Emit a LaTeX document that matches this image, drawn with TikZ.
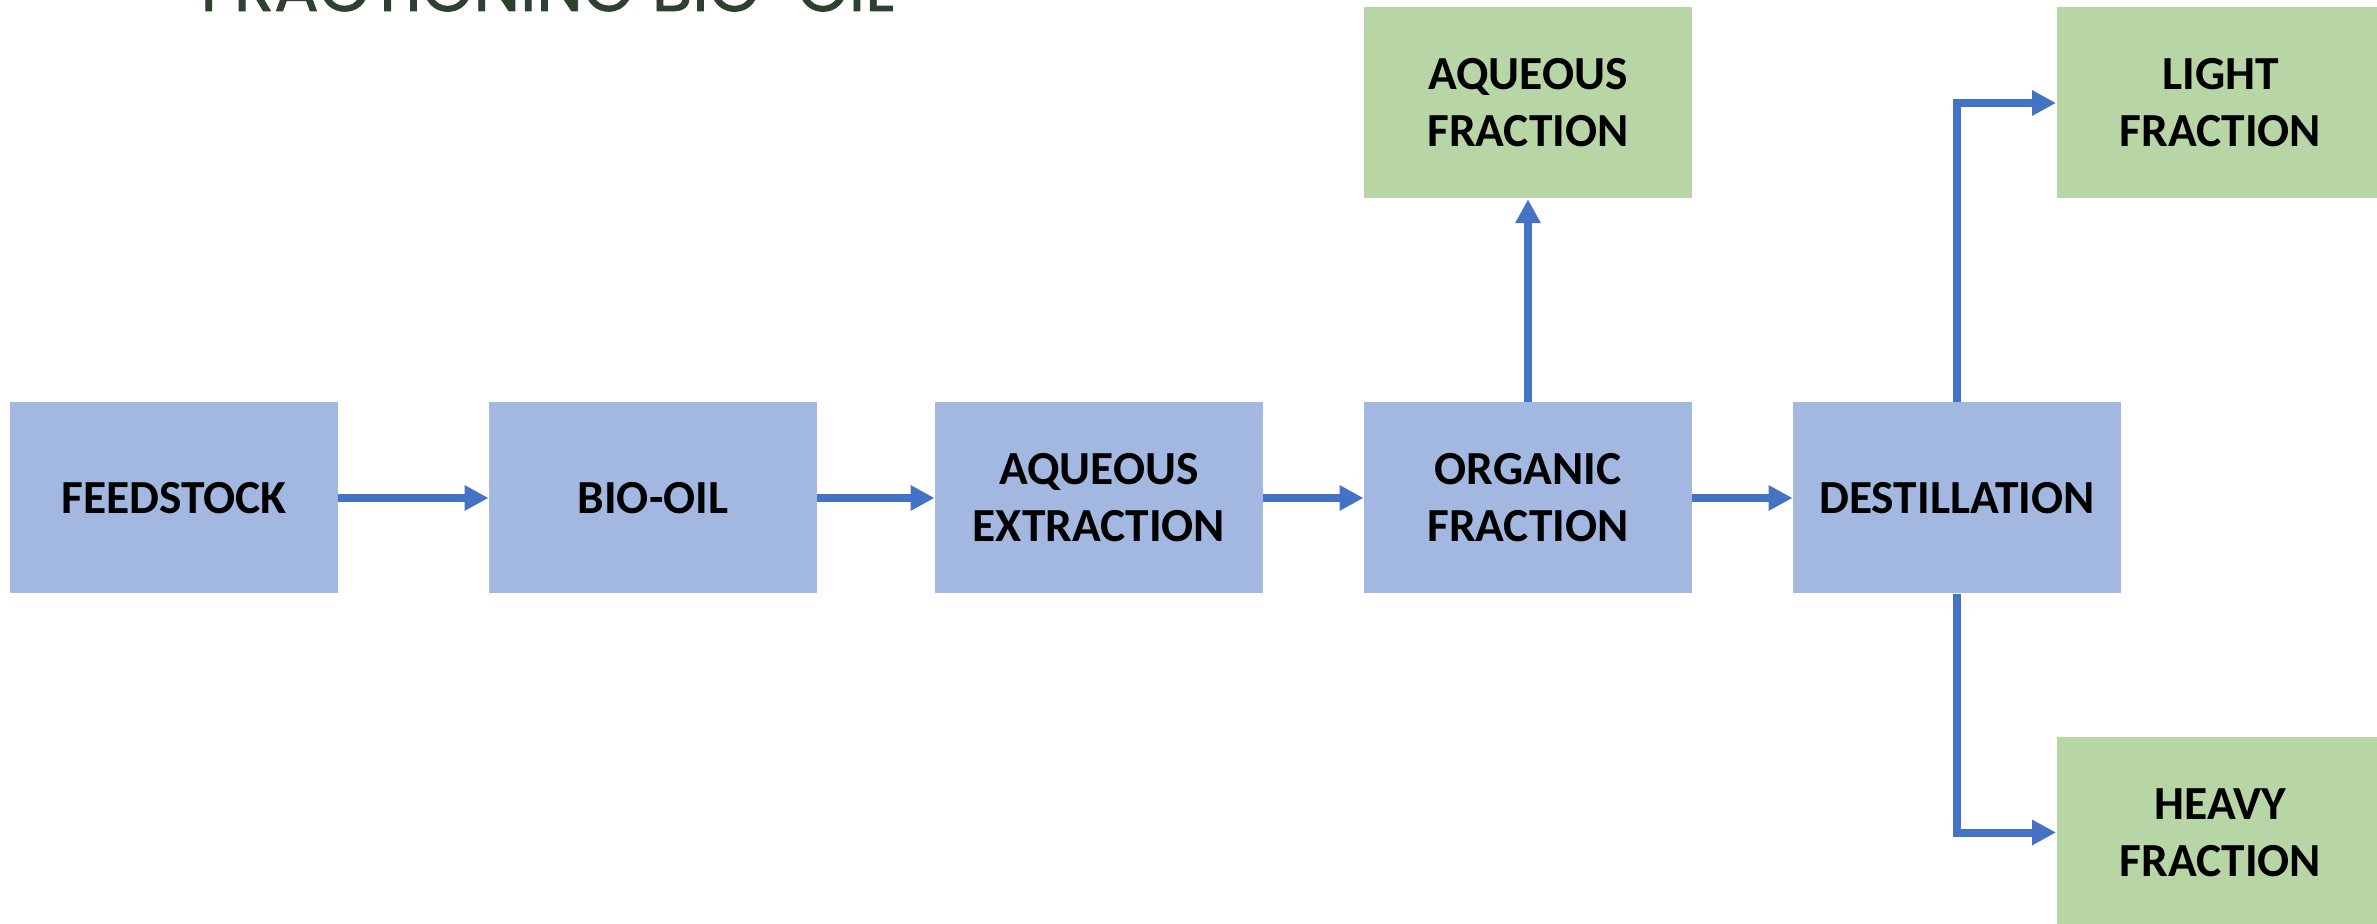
\documentclass[tikz,border=0pt]{standalone}
\usepackage{fontspec}
\setmainfont{Carlito}
\newfontfamily\titlefont[FakeBold=1.2]{Poppins}
\usepackage{tikz}
\usetikzlibrary{positioning,arrows.meta}

\definecolor{boxblue}{HTML}{A2B8E1}
\definecolor{boxgreen}{HTML}{B8D5A5}
\definecolor{flowblue}{HTML}{4472C4}
\definecolor{titlegreen}{HTML}{2E402F}

\begin{document}
\begin{tikzpicture}[
        stage/.style={fill=boxblue, minimum width=3.275cm, minimum height=1.91cm, inner sep=0pt, align=center, font=\bfseries\fontsize{13.5}{16.2}\selectfont},
        product/.style={stage, fill=boxgreen},
        flow/.style={-{Triangle[length=0.24cm,width=0.24cm]}, line width=0.08cm, draw=flowblue}]
        \useasboundingbox (0,0) rectangle (23.77,-9.24);
        \clip (0,0) rectangle (23.77,-9.24);

        \node[anchor=base west, inner sep=0pt, text=titlegreen, font=\titlefont\fontsize{18.8}{22}\selectfont] (title) at (2.0,-0.11) {FRACTIONING BIO-OIL};

        \node[stage] (feedstock) at (1.74,-4.98) {FEEDSTOCK};
        \node[stage, right of=feedstock, xshift=3.79cm] (biooil) {BIO-OIL};
        \node[stage, right of=biooil, xshift=3.46cm] (extraction) {AQUEOUS\\EXTRACTION};
        \node[stage, right of=extraction, xshift=3.29cm] (organic) {ORGANIC\\FRACTION};
        \node[stage, right of=organic, xshift=3.29cm] (destillation) {DESTILLATION};

        \node[product, above of=organic, yshift=2.95cm] (aqueous) {AQUEOUS\\FRACTION};
        \node[product, right of=destillation, xshift=1.635cm, yshift=3.95cm] (light) {LIGHT\\FRACTION};
        \node[product, right of=destillation, xshift=1.635cm, yshift=-3.345cm] (heavy) {HEAVY\\FRACTION};

        \draw[flow] (feedstock) -- (biooil);
        \draw[flow] (biooil) -- (extraction);
        \draw[flow] (extraction) -- (organic);
        \draw[flow] (organic) -- (destillation);
        \draw[flow] (organic) -- (aqueous);
        \draw[flow] (destillation.north) |- (light.west);
        \draw[flow] (destillation.south) |- (heavy.west);
    \end{tikzpicture}
\end{document}
